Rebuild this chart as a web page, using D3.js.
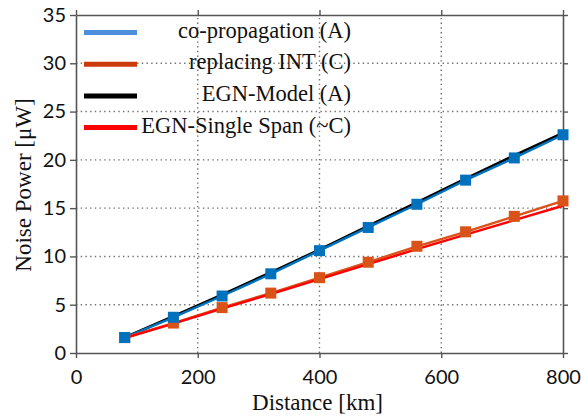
<!DOCTYPE html>
<html>
<head>
<meta charset="utf-8">
<script src="https://cdn.jsdelivr.net/npm/d3@7/dist/d3.min.js"></script>
<style>
  html, body { margin: 0; padding: 0; background: #fff; }
  svg { display: block; }
</style>
</head>
<body>
<svg id="chart" width="581" height="416"></svg>
<script>
// Span-end distances in km
const distances = [80, 160, 240, 320, 400, 480, 560, 640, 720, 800];
// Measured noise power (µW)
const coPropagation = [1.6, 3.7, 5.9, 8.2, 10.6, 13.0, 15.4, 17.9, 20.2, 22.6];
const replacingInt  = [1.6, 3.1, 4.7, 6.2, 7.8, 9.4, 11.05, 12.55, 14.15, 15.75];
// Model curves (µW)
const egnModel      = [1.6, 3.8, 6.05, 8.35, 10.7, 13.15, 15.6, 18.05, 20.45, 22.8];
const egnSingleSpan = [1.55, 3.05, 4.6, 6.1, 7.65, 9.2, 10.75, 12.25, 13.75, 15.25];

const xTicks = [0, 200, 400, 600, 800];
const yTicks = [0, 5, 10, 15, 20, 25, 30, 35];

const legendLabels = ["co-propagation (A)", "replacing INT (C)", "EGN-Model (A)", "EGN-Single Span (~C)"];
const legendColors = ["#4d8fdc", "#cc3a0a", "#000000", "#ff0000"];

const svg = d3.select("#chart");
const m = { left: 76, right: 18, top: 15, bottom: 63 };
const W = 581, H = 416;
const x = d3.scaleLinear().domain([0, 800]).range([m.left, W - m.right]);
const y = d3.scaleLinear().domain([0, 35]).range([H - m.bottom, m.top]);

const tickFont = "Lato, 'Open Sans', sans-serif";
const serifFont = "'Liberation Serif', 'DejaVu Serif', serif";

// dotted grid
const grid = svg.append("g");
grid.selectAll("line.gx").data(xTicks.slice(1, -1)).join("line")
  .attr("x1", d => x(d)).attr("x2", d => x(d))
  .attr("y1", y(0)).attr("y2", y(35))
  .attr("stroke", "#707070").attr("stroke-width", 1.4).attr("stroke-dasharray", "1.4,3.3");
grid.selectAll("line.gy").data(yTicks.slice(1, -1)).join("line")
  .attr("y1", d => y(d)).attr("y2", d => y(d))
  .attr("x1", x(0)).attr("x2", x(800))
  .attr("stroke", "#707070").attr("stroke-width", 1.4).attr("stroke-dasharray", "1.4,3.3");

// axes on all four sides
function styleAxis(g, showText) {
  g.select(".domain").attr("stroke", "#555").attr("stroke-width", 1.6);
  g.selectAll(".tick line").attr("stroke", "#555").attr("stroke-width", 1.4);
  g.selectAll(".tick text")
    .attr("fill", "#111")
    .style("font-family", tickFont)
    .style("font-size", "20px")
    .style("display", showText ? null : "none");
}
svg.append("g").attr("transform", `translate(0,${y(0)})`)
  .call(d3.axisBottom(x).tickValues(xTicks).tickSize(5).tickPadding(12).tickSizeOuter(0))
  .call(g => styleAxis(g, true));
svg.append("g").attr("transform", `translate(0,${y(35)})`)
  .call(d3.axisTop(x).tickValues(xTicks).tickSize(5).tickSizeOuter(0))
  .call(g => styleAxis(g, false));
svg.append("g").attr("transform", `translate(${x(0)},0)`)
  .call(d3.axisLeft(y).tickValues(yTicks).tickSize(6).tickPadding(4).tickSizeOuter(0))
  .call(g => styleAxis(g, true));
svg.append("g").attr("transform", `translate(${x(800)},0)`)
  .call(d3.axisRight(y).tickValues(yTicks).tickSize(5).tickSizeOuter(0))
  .call(g => styleAxis(g, false));

// axis titles
svg.append("text")
  .attr("x", (x(0) + x(800)) / 2 - 2).attr("y", 410)
  .attr("text-anchor", "middle")
  .style("font-family", serifFont).style("font-size", "23px").attr("fill", "#111")
  .text("Distance [km]");
svg.append("text")
  .attr("transform", "translate(31,185) rotate(-90)")
  .attr("text-anchor", "middle")
  .style("font-family", serifFont).style("font-size", "23px").attr("fill", "#111")
  .text("Noise Power [\u03bcW]");

// series lines
const line = d3.line().x(d => x(d[0])).y(d => y(d[1]));
const zip = vals => distances.map((d, i) => [d, vals[i]]);

svg.append("path").datum(zip(egnModel)).attr("d", line)
  .attr("fill", "none").attr("stroke", "#000").attr("stroke-width", 2.6);
svg.append("path").datum(zip(coPropagation)).attr("d", line)
  .attr("fill", "none").attr("stroke", "#0072bd").attr("stroke-width", 2.4);
svg.append("path").datum(zip(replacingInt)).attr("d", line)
  .attr("fill", "none").attr("stroke", "#d95319").attr("stroke-width", 2.4);
svg.append("path").datum(zip(egnSingleSpan)).attr("d", line)
  .attr("fill", "none").attr("stroke", "#ff0000").attr("stroke-width", 2.4);

// square markers
const ms = 11;
svg.append("g").selectAll("rect").data(zip(replacingInt)).join("rect")
  .attr("x", d => x(d[0]) - ms / 2).attr("y", d => y(d[1]) - ms / 2)
  .attr("width", ms).attr("height", ms).attr("fill", "#d95319");
svg.append("g").selectAll("rect").data(zip(coPropagation)).join("rect")
  .attr("x", d => x(d[0]) - ms / 2).attr("y", d => y(d[1]) - ms / 2)
  .attr("width", ms).attr("height", ms).attr("fill", "#0072bd");

// legend
const lg = svg.append("g");
legendLabels.forEach((lab, i) => {
  const cy = 32.5 + i * 31.7;
  lg.append("line").attr("x1", 84).attr("x2", 137).attr("y1", cy).attr("y2", cy)
    .attr("stroke", legendColors[i]).attr("stroke-width", 5);
  lg.append("text").attr("x", 351).attr("y", cy + 5)
    .attr("text-anchor", "end")
    .style("font-family", serifFont).style("font-size", "22.5px").attr("fill", "#111")
    .text(lab);
});
</script>
</body>
</html>
